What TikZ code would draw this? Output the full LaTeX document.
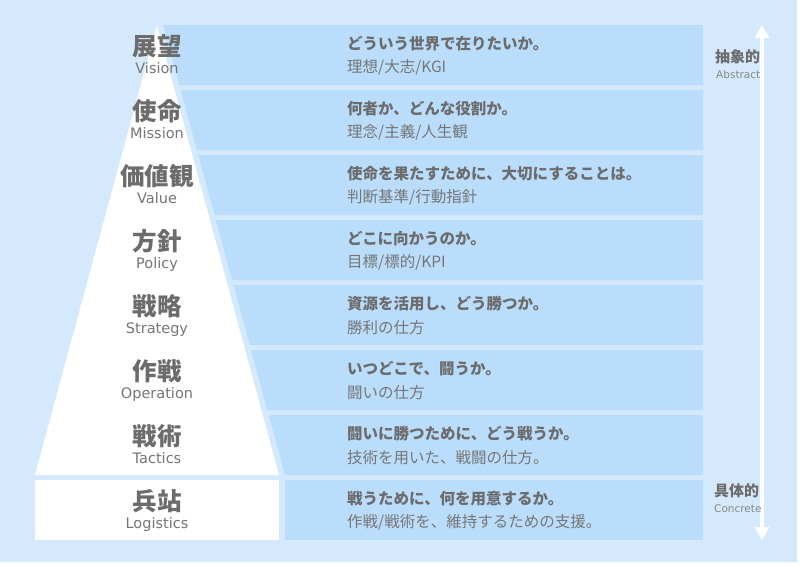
\documentclass[tikz,border=0pt]{standalone}
\usepackage{fontspec}
\setmainfont{DejaVu Sans}
\newfontfamily\jp{Noto Sans CJK JP}
\usetikzlibrary{arrows.meta}
\definecolor{bgblue}{RGB}{213,233,252}
\definecolor{bandblue}{RGB}{186,221,252}
\definecolor{textgray}{RGB}{108,108,108}
\definecolor{subgray}{RGB}{118,118,118}
\definecolor{sidegray}{RGB}{135,135,135}

\begin{document}
\begin{tikzpicture}[x=1pt,y=-1pt]
\tikzstyle{every node}+=[inner sep=0pt]
\tikzstyle{band}=[fill=bandblue]
\tikzstyle{title}=[text=textgray,font=\jp\bfseries\fontsize{24.5}{26}\selectfont]
\tikzstyle{eng}=[text=subgray,anchor=base,font=\fontsize{14.5}{16}\selectfont]
\tikzstyle{ask}=[text=textgray,anchor=west,font=\jp\bfseries\fontsize{15.5}{17}\selectfont]
\tikzstyle{note}=[text=subgray,anchor=west,font=\jp\fontsize{15.5}{17}\selectfont]
\tikzstyle{side}=[text=textgray,anchor=west,font=\jp\bfseries\fontsize{15}{17}\selectfont]
\tikzstyle{sideen}=[text=sidegray,anchor=base west,font=\fontsize{10.5}{12}\selectfont]
\useasboundingbox (0,0) rectangle (800,565);
\fill [bgblue] (0,0) rectangle (797,562);
% pyramid and base block
\fill [white] (157,25) -- (279,475) -- (35,475) -- cycle;
\fill [white] (35,480) rectangle (279,540);
% bands
\fill [band] (163,25) -- (703,25) -- (703,85) -- (179.3,85) -- cycle;
\fill [band] (180.6,90) -- (703,90) -- (703,150) -- (196.9,150) -- cycle;
\fill [band] (198.2,155) -- (703,155) -- (703,215) -- (214.5,215) -- cycle;
\fill [band] (215.9,220) -- (703,220) -- (703,280) -- (232.1,280) -- cycle;
\fill [band] (233.5,285) -- (703,285) -- (703,345) -- (249.8,345) -- cycle;
\fill [band] (251.1,350) -- (703,350) -- (703,410) -- (267.4,410) -- cycle;
\fill [band] (268.7,415) -- (703,415) -- (703,475) -- (285,475) -- cycle;
\fill [band] (285,480) rectangle (703,540);
% arrow
\coordinate (top) at (762,25);
\coordinate (bottom) at (762,540);
\draw [white,line width=3.5pt,{Triangle[length=13pt,width=14pt]}-{Triangle[length=13pt,width=14pt]}] (top) -- (bottom);
% level names
\node [title] (kanji1) at (157,46) {展望};
\node [eng] (eng1) at (157,73.5) {Vision};
\node [title] (kanji2) at (157,111) {使命};
\node [eng] (eng2) at (157,138.5) {Mission};
\node [title] (kanji3) at (157,176) {価値観};
\node [eng] (eng3) at (157,203.5) {Value};
\node [title] (kanji4) at (157,241) {方針};
\node [eng] (eng4) at (157,268.5) {Policy};
\node [title] (kanji5) at (157,306) {戦略};
\node [eng] (eng5) at (157,333.5) {Strategy};
\node [title] (kanji6) at (157,371) {作戦};
\node [eng] (eng6) at (157,398.5) {Operation};
\node [title] (kanji7) at (157,436) {戦術};
\node [eng] (eng7) at (157,463.5) {Tactics};
\node [title] (kanji8) at (157,501) {兵站};
\node [eng] (eng8) at (157,528.5) {Logistics};
% descriptions
\node [ask] (ask1) at (347,44) {どういう世界で在りたいか。};
\node [note] (note1) at (347,67.5) {理想/大志/KGI};
\node [ask] (ask2) at (347,109) {何者か、どんな役割か。};
\node [note] (note2) at (347,132.5) {理念/主義/人生観};
\node [ask] (ask3) at (347,174) {使命を果たすために、大切にすることは。};
\node [note] (note3) at (347,197.5) {判断基準/行動指針};
\node [ask] (ask4) at (347,239) {どこに向かうのか。};
\node [note] (note4) at (347,262.5) {目標/標的/KPI};
\node [ask] (ask5) at (347,304) {資源を活用し、どう勝つか。};
\node [note] (note5) at (347,327.5) {勝利の仕方};
\node [ask] (ask6) at (347,369) {いつどこで、闘うか。};
\node [note] (note6) at (347,392.5) {闘いの仕方};
\node [ask] (ask7) at (347,434) {闘いに勝つために、どう戦うか。};
\node [note] (note7) at (347,457.5) {技術を用いた、戦闘の仕方。};
\node [ask] (ask8) at (347,499) {戦うために、何を用意するか。};
\node [note] (note8) at (347,522.5) {作戦/戦術を、維持するための支援。};
% scale labels
\node [side] (abs) at (715,57) {抽象的};
\node [sideen] (absen) at (716,78) {Abstract};
\node [side] (con) at (714,491) {具体的};
\node [sideen] (conen) at (714,512.3) {Concrete};
\end{tikzpicture}
\end{document}
